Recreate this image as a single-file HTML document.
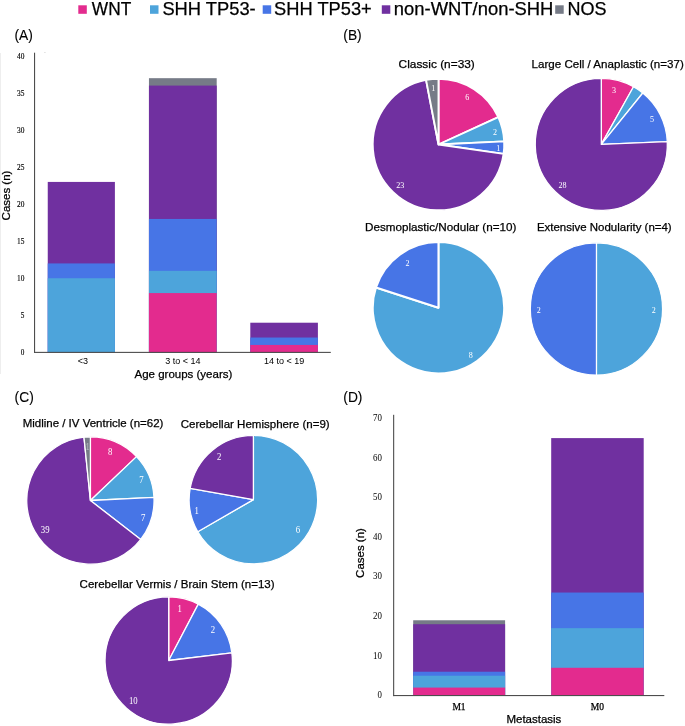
<!DOCTYPE html><html><head><meta charset="utf-8"><style>html,body{margin:0;padding:0;background:#fff}svg{display:block;will-change:transform}</style></head><body>
<svg width="685" height="726" viewBox="0 0 685 726">
<rect width="685" height="726" fill="#fff"/>
<rect x="78.3" y="5.3" width="8.5" height="8.5" fill="#E32B8E"/>
<text x="91.8" y="15.2" font-family='"Liberation Sans", sans-serif' font-size="18" text-anchor="start" fill="#000"  stroke="#000" stroke-width="0.25" textLength="39.4" lengthAdjust="spacingAndGlyphs">WNT</text>
<rect x="150" y="5.3" width="8.5" height="8.5" fill="#4DA4DB"/>
<text x="162.4" y="15.2" font-family='"Liberation Sans", sans-serif' font-size="18" text-anchor="start" fill="#000"  stroke="#000" stroke-width="0.25" textLength="93.3" lengthAdjust="spacingAndGlyphs">SHH TP53-</text>
<rect x="262.7" y="5.3" width="8.5" height="8.5" fill="#4775E6"/>
<text x="274.1" y="15.2" font-family='"Liberation Sans", sans-serif' font-size="18" text-anchor="start" fill="#000"  stroke="#000" stroke-width="0.25" textLength="97.7" lengthAdjust="spacingAndGlyphs">SHH TP53+</text>
<rect x="381.8" y="5.3" width="8.5" height="8.5" fill="#7030A0"/>
<text x="393.8" y="15.2" font-family='"Liberation Sans", sans-serif' font-size="18" text-anchor="start" fill="#000"  stroke="#000" stroke-width="0.25" textLength="159.6" lengthAdjust="spacingAndGlyphs">non-WNT/non-SHH</text>
<rect x="555.2" y="5.3" width="8.5" height="8.5" fill="#767B87"/>
<text x="567.6" y="15.2" font-family='"Liberation Sans", sans-serif' font-size="18" text-anchor="start" fill="#000"  stroke="#000" stroke-width="0.25">NOS</text>
<text x="14.5" y="40" font-family='"Liberation Sans", sans-serif' font-size="13.8" text-anchor="start" fill="#000"  stroke="#000" stroke-width="0.1">(A)</text>
<text x="343.3" y="40" font-family='"Liberation Sans", sans-serif' font-size="13.8" text-anchor="start" fill="#000"  stroke="#000" stroke-width="0.1">(B)</text>
<text x="14.6" y="401.6" font-family='"Liberation Sans", sans-serif' font-size="13.8" text-anchor="start" fill="#000"  stroke="#000" stroke-width="0.1">(C)</text>
<text x="343.3" y="401.9" font-family='"Liberation Sans", sans-serif' font-size="13.8" text-anchor="start" fill="#000"  stroke="#000" stroke-width="0.1">(D)</text>
<rect x="0" y="53" width="1" height="321" fill="#eeeeee"/><rect x="44.2" y="52.2" width="1.4" height="0.7" fill="#cfcfcf"/>
<rect x="47.75" y="181.92" width="67.15" height="170.43" fill="#7030A0"/>
<rect x="47.75" y="263.43" width="67.15" height="88.92" fill="#4775E6"/>
<rect x="47.75" y="278.25" width="67.15" height="74.10" fill="#4DA4DB"/>
<rect x="148.95" y="78.18" width="67.75" height="274.17" fill="#767B87"/>
<rect x="148.95" y="85.59" width="67.75" height="266.76" fill="#7030A0"/>
<rect x="148.95" y="218.97" width="67.75" height="133.38" fill="#4775E6"/>
<rect x="148.95" y="270.84" width="67.75" height="81.51" fill="#4DA4DB"/>
<rect x="148.95" y="293.07" width="67.75" height="59.28" fill="#E32B8E"/>
<rect x="250.3" y="322.71" width="67.60" height="29.64" fill="#7030A0"/>
<rect x="250.3" y="337.53" width="67.60" height="14.82" fill="#4775E6"/>
<rect x="250.3" y="344.94" width="67.60" height="7.41" fill="#E32B8E"/>
<rect x="34" y="52.7" width="1.1" height="300.25" fill="#4d4d4d"/>
<rect x="34" y="351.85" width="296.8" height="1.1" fill="#4d4d4d"/>
<text x="24.4" y="355.35" font-family='"Liberation Serif", serif' font-size="8.6" text-anchor="end" fill="#000" stroke="#000" stroke-width="0.15" textLength="3.6" lengthAdjust="spacingAndGlyphs">0</text>
<text x="24.4" y="318.30" font-family='"Liberation Serif", serif' font-size="8.6" text-anchor="end" fill="#000" stroke="#000" stroke-width="0.15" textLength="3.6" lengthAdjust="spacingAndGlyphs">5</text>
<text x="24.4" y="281.25" font-family='"Liberation Serif", serif' font-size="8.6" text-anchor="end" fill="#000" stroke="#000" stroke-width="0.15" textLength="7.4" lengthAdjust="spacingAndGlyphs">10</text>
<text x="24.4" y="244.20" font-family='"Liberation Serif", serif' font-size="8.6" text-anchor="end" fill="#000" stroke="#000" stroke-width="0.15" textLength="7.4" lengthAdjust="spacingAndGlyphs">15</text>
<text x="24.4" y="207.15" font-family='"Liberation Serif", serif' font-size="8.6" text-anchor="end" fill="#000" stroke="#000" stroke-width="0.15" textLength="7.4" lengthAdjust="spacingAndGlyphs">20</text>
<text x="24.4" y="170.10" font-family='"Liberation Serif", serif' font-size="8.6" text-anchor="end" fill="#000" stroke="#000" stroke-width="0.15" textLength="7.4" lengthAdjust="spacingAndGlyphs">25</text>
<text x="24.4" y="133.05" font-family='"Liberation Serif", serif' font-size="8.6" text-anchor="end" fill="#000" stroke="#000" stroke-width="0.15" textLength="7.4" lengthAdjust="spacingAndGlyphs">30</text>
<text x="24.4" y="96.00" font-family='"Liberation Serif", serif' font-size="8.6" text-anchor="end" fill="#000" stroke="#000" stroke-width="0.15" textLength="7.4" lengthAdjust="spacingAndGlyphs">35</text>
<text x="24.4" y="58.95" font-family='"Liberation Serif", serif' font-size="8.6" text-anchor="end" fill="#000" stroke="#000" stroke-width="0.15" textLength="7.4" lengthAdjust="spacingAndGlyphs">40</text>
<text x="83" y="363.6" font-family='"Liberation Sans", sans-serif' font-size="9" text-anchor="middle" fill="#000" >&lt;3</text>
<text x="182.8" y="363.6" font-family='"Liberation Sans", sans-serif' font-size="9" text-anchor="middle" fill="#000" >3 to &lt; 14</text>
<text x="284.2" y="363.6" font-family='"Liberation Sans", sans-serif' font-size="9" text-anchor="middle" fill="#000" >14 to &lt; 19</text>
<text x="183.4" y="377.8" font-family='"Liberation Sans", sans-serif' font-size="11.5" text-anchor="middle" fill="#000"  stroke="#000" stroke-width="0.25">Age groups (years)</text>
<text transform="translate(10.4 195.5) rotate(-90)" font-family='"Liberation Sans", sans-serif' font-size="11.5" text-anchor="middle" fill="#000" stroke="#000" stroke-width="0.25">Cases (n)</text>
<text x="398.6" y="68.2" font-family='"Liberation Sans", sans-serif' font-size="11.5" text-anchor="start" fill="#000"  stroke="#000" stroke-width="0.25" textLength="76.2" lengthAdjust="spacingAndGlyphs">Classic (n=33)</text>
<text x="531.6" y="68.2" font-family='"Liberation Sans", sans-serif' font-size="11.5" text-anchor="start" fill="#000"  stroke="#000" stroke-width="0.25" textLength="152.2" lengthAdjust="spacingAndGlyphs">Large Cell / Anaplastic (n=37)</text>
<text x="365" y="231.2" font-family='"Liberation Sans", sans-serif' font-size="11.5" text-anchor="start" fill="#000"  stroke="#000" stroke-width="0.25" textLength="151.4" lengthAdjust="spacingAndGlyphs">Desmoplastic/Nodular (n=10)</text>
<text x="536.9" y="231.2" font-family='"Liberation Sans", sans-serif' font-size="11.5" text-anchor="start" fill="#000"  stroke="#000" stroke-width="0.25" textLength="134.8" lengthAdjust="spacingAndGlyphs">Extensive Nodularity (n=4)</text>
<path d="M438.5 144.5 L438.50 78.75 A65.75 65.75 0 0 1 498.31 117.19 Z" fill="#E32B8E" stroke="#fff" stroke-width="1.9" stroke-linejoin="round"/>
<path d="M438.5 144.5 L498.31 117.19 A65.75 65.75 0 0 1 504.18 141.37 Z" fill="#4DA4DB" stroke="#fff" stroke-width="1.9" stroke-linejoin="round"/>
<path d="M438.5 144.5 L504.18 141.37 A65.75 65.75 0 0 1 503.58 153.86 Z" fill="#4775E6" stroke="#fff" stroke-width="1.9" stroke-linejoin="round"/>
<path d="M438.5 144.5 L503.58 153.86 A65.75 65.75 0 1 1 426.06 79.94 Z" fill="#7030A0" stroke="#fff" stroke-width="1.9" stroke-linejoin="round"/>
<path d="M438.5 144.5 L426.06 79.94 A65.75 65.75 0 0 1 438.50 78.75 Z" fill="#767B87" stroke="#fff" stroke-width="1.9" stroke-linejoin="round"/>
<text transform="translate(467.3 99.90) scale(0.88 1)" font-family='"Liberation Serif", serif' font-size="9.18" text-anchor="middle" fill="#fff">6</text>
<text transform="translate(495.1 135.10) scale(0.88 1)" font-family='"Liberation Serif", serif' font-size="9.18" text-anchor="middle" fill="#fff">2</text>
<text transform="translate(498.2 151.00) scale(0.88 1)" font-family='"Liberation Serif", serif' font-size="9.18" text-anchor="middle" fill="#fff">1</text>
<text transform="translate(400.3 188.20) scale(0.88 1)" font-family='"Liberation Serif", serif' font-size="9.18" text-anchor="middle" fill="#fff">23</text>
<text transform="translate(433.3 91.00) scale(0.88 1)" font-family='"Liberation Serif", serif' font-size="9.18" text-anchor="middle" fill="#fff">1</text>
<path d="M601.3 144.4 L601.30 78.35 A66.05000000000001 66.05000000000001 0 0 1 633.51 86.74 Z" fill="#E32B8E" stroke="#fff" stroke-width="1.3" stroke-linejoin="round"/>
<path d="M601.3 144.4 L633.51 86.74 A66.05000000000001 66.05000000000001 0 0 1 642.79 93.01 Z" fill="#4DA4DB" stroke="#fff" stroke-width="1.3" stroke-linejoin="round"/>
<path d="M601.3 144.4 L642.79 93.01 A66.05000000000001 66.05000000000001 0 0 1 667.29 141.60 Z" fill="#4775E6" stroke="#fff" stroke-width="1.3" stroke-linejoin="round"/>
<path d="M601.3 144.4 L667.29 141.60 A66.05000000000001 66.05000000000001 0 1 1 601.30 78.35 Z" fill="#7030A0" stroke="#fff" stroke-width="1.3" stroke-linejoin="round"/>
<text transform="translate(613.9 92.80) scale(0.88 1)" font-family='"Liberation Serif", serif' font-size="9.18" text-anchor="middle" fill="#fff">3</text>
<text transform="translate(652 122.20) scale(0.88 1)" font-family='"Liberation Serif", serif' font-size="9.18" text-anchor="middle" fill="#fff">5</text>
<text transform="translate(562.6 187.50) scale(0.88 1)" font-family='"Liberation Serif", serif' font-size="9.18" text-anchor="middle" fill="#fff">28</text>
<path d="M438.45 307.8 L438.45 242.10 A65.7 65.7 0 1 1 375.97 287.50 Z" fill="#4DA4DB" stroke="#fff" stroke-width="2.0" stroke-linejoin="round"/>
<path d="M438.45 307.8 L375.97 287.50 A65.7 65.7 0 0 1 438.45 242.10 Z" fill="#4775E6" stroke="#fff" stroke-width="2.0" stroke-linejoin="round"/>
<text transform="translate(407.5 265.60) scale(0.88 1)" font-family='"Liberation Serif", serif' font-size="9.18" text-anchor="middle" fill="#fff">2</text>
<text transform="translate(470.8 357.90) scale(0.88 1)" font-family='"Liberation Serif", serif' font-size="9.18" text-anchor="middle" fill="#fff">8</text>
<path d="M596.45 308.9 L596.45 242.77 A66.125 66.125 0 0 1 596.45 375.02 Z" fill="#4DA4DB" stroke="#fff" stroke-width="1.25" stroke-linejoin="round"/>
<path d="M596.45 308.9 L596.45 375.02 A66.125 66.125 0 0 1 596.45 242.77 Z" fill="#4775E6" stroke="#fff" stroke-width="1.25" stroke-linejoin="round"/>
<text transform="translate(538.8 313.10) scale(0.88 1)" font-family='"Liberation Serif", serif' font-size="9.18" text-anchor="middle" fill="#fff">2</text>
<text transform="translate(653.7 313.10) scale(0.88 1)" font-family='"Liberation Serif", serif' font-size="9.18" text-anchor="middle" fill="#fff">2</text>
<text x="22.7" y="427.2" font-family='"Liberation Sans", sans-serif' font-size="11.5" text-anchor="start" fill="#000"  stroke="#000" stroke-width="0.25" textLength="140.7" lengthAdjust="spacingAndGlyphs">Midline / IV Ventricle (n=62)</text>
<text x="180.7" y="427.7" font-family='"Liberation Sans", sans-serif' font-size="11.5" text-anchor="start" fill="#000"  stroke="#000" stroke-width="0.25" textLength="149" lengthAdjust="spacingAndGlyphs">Cerebellar Hemisphere (n=9)</text>
<text x="79.6" y="587.7" font-family='"Liberation Sans", sans-serif' font-size="11.5" text-anchor="start" fill="#000"  stroke="#000" stroke-width="0.25" textLength="195" lengthAdjust="spacingAndGlyphs">Cerebellar Vermis / Brain Stem (n=13)</text>
<path d="M90.4 500.5 L90.40 436.85 A63.65 63.65 0 0 1 136.53 456.65 Z" fill="#E32B8E" stroke="#fff" stroke-width="1.3" stroke-linejoin="round"/>
<path d="M90.4 500.5 L136.53 456.65 A63.65 63.65 0 0 1 153.97 497.28 Z" fill="#4DA4DB" stroke="#fff" stroke-width="1.3" stroke-linejoin="round"/>
<path d="M90.4 500.5 L153.97 497.28 A63.65 63.65 0 0 1 140.73 539.46 Z" fill="#4775E6" stroke="#fff" stroke-width="1.3" stroke-linejoin="round"/>
<path d="M90.4 500.5 L140.73 539.46 A63.65 63.65 0 1 1 83.96 437.18 Z" fill="#7030A0" stroke="#fff" stroke-width="1.3" stroke-linejoin="round"/>
<path d="M90.4 500.5 L83.96 437.18 A63.65 63.65 0 0 1 90.40 436.85 Z" fill="#767B87" stroke="#fff" stroke-width="1.3" stroke-linejoin="round"/>
<text transform="translate(110.2 454.66) scale(0.88 1)" font-family='"Liberation Serif", serif' font-size="9.94" text-anchor="middle" fill="#fff">8</text>
<text transform="translate(141.5 483.16) scale(0.88 1)" font-family='"Liberation Serif", serif' font-size="9.94" text-anchor="middle" fill="#fff">7</text>
<text transform="translate(143.3 521.36) scale(0.88 1)" font-family='"Liberation Serif", serif' font-size="9.94" text-anchor="middle" fill="#fff">7</text>
<text transform="translate(45.2 532.56) scale(0.88 1)" font-family='"Liberation Serif", serif' font-size="9.94" text-anchor="middle" fill="#fff">39</text>
<text transform="translate(87.7 450.26) scale(0.88 1)" font-family='"Liberation Serif", serif' font-size="9.94" text-anchor="middle" fill="#b9bcc6">1</text>
<path d="M253.4 499.6 L253.40 435.35 A64.25 64.25 0 1 1 197.76 531.73 Z" fill="#4DA4DB" stroke="#fff" stroke-width="1.3" stroke-linejoin="round"/>
<path d="M253.4 499.6 L197.76 531.73 A64.25 64.25 0 0 1 190.13 488.44 Z" fill="#4775E6" stroke="#fff" stroke-width="1.3" stroke-linejoin="round"/>
<path d="M253.4 499.6 L190.13 488.44 A64.25 64.25 0 0 1 253.40 435.35 Z" fill="#7030A0" stroke="#fff" stroke-width="1.3" stroke-linejoin="round"/>
<text transform="translate(219.2 460.46) scale(0.88 1)" font-family='"Liberation Serif", serif' font-size="9.94" text-anchor="middle" fill="#fff">2</text>
<text transform="translate(196.8 513.76) scale(0.88 1)" font-family='"Liberation Serif", serif' font-size="9.94" text-anchor="middle" fill="#fff">1</text>
<text transform="translate(297.9 533.06) scale(0.88 1)" font-family='"Liberation Serif", serif' font-size="9.94" text-anchor="middle" fill="#fff">6</text>
<path d="M168.7 660.5 L168.70 596.85 A63.65 63.65 0 0 1 198.28 604.14 Z" fill="#E32B8E" stroke="#fff" stroke-width="1.3" stroke-linejoin="round"/>
<path d="M168.7 660.5 L198.28 604.14 A63.65 63.65 0 0 1 231.89 652.83 Z" fill="#4775E6" stroke="#fff" stroke-width="1.3" stroke-linejoin="round"/>
<path d="M168.7 660.5 L231.89 652.83 A63.65 63.65 0 1 1 168.70 596.85 Z" fill="#7030A0" stroke="#fff" stroke-width="1.3" stroke-linejoin="round"/>
<text transform="translate(179.8 611.86) scale(0.88 1)" font-family='"Liberation Serif", serif' font-size="9.94" text-anchor="middle" fill="#fff">1</text>
<text transform="translate(212.9 632.76) scale(0.88 1)" font-family='"Liberation Serif", serif' font-size="9.94" text-anchor="middle" fill="#fff">2</text>
<text transform="translate(133.3 704.36) scale(0.88 1)" font-family='"Liberation Serif", serif' font-size="9.94" text-anchor="middle" fill="#fff">10</text>
<rect x="413.2" y="620.26" width="91.90" height="75.24" fill="#767B87"/>
<rect x="413.2" y="624.22" width="91.90" height="71.28" fill="#7030A0"/>
<rect x="413.2" y="671.74" width="91.90" height="23.76" fill="#4775E6"/>
<rect x="413.2" y="675.70" width="91.90" height="19.80" fill="#4DA4DB"/>
<rect x="413.2" y="687.58" width="91.90" height="7.92" fill="#E32B8E"/>
<rect x="551.2" y="438.10" width="92.50" height="257.40" fill="#7030A0"/>
<rect x="551.2" y="592.54" width="92.50" height="102.96" fill="#4775E6"/>
<rect x="551.2" y="628.18" width="92.50" height="67.32" fill="#4DA4DB"/>
<rect x="551.2" y="667.78" width="92.50" height="27.72" fill="#E32B8E"/>
<rect x="393.1" y="414.8" width="1.1" height="281.30" fill="#4d4d4d"/>
<rect x="393.1" y="695.0" width="271.19999999999993" height="1.1" fill="#4d4d4d"/>
<text x="381.9" y="698.20" font-family='"Liberation Serif", serif' font-size="10" text-anchor="end" fill="#000" textLength="4.4" lengthAdjust="spacingAndGlyphs">0</text>
<text x="381.9" y="658.60" font-family='"Liberation Serif", serif' font-size="10" text-anchor="end" fill="#000" textLength="8.9" lengthAdjust="spacingAndGlyphs">10</text>
<text x="381.9" y="619.00" font-family='"Liberation Serif", serif' font-size="10" text-anchor="end" fill="#000" textLength="8.9" lengthAdjust="spacingAndGlyphs">20</text>
<text x="381.9" y="579.40" font-family='"Liberation Serif", serif' font-size="10" text-anchor="end" fill="#000" textLength="8.9" lengthAdjust="spacingAndGlyphs">30</text>
<text x="381.9" y="539.80" font-family='"Liberation Serif", serif' font-size="10" text-anchor="end" fill="#000" textLength="8.9" lengthAdjust="spacingAndGlyphs">40</text>
<text x="381.9" y="500.20" font-family='"Liberation Serif", serif' font-size="10" text-anchor="end" fill="#000" textLength="8.9" lengthAdjust="spacingAndGlyphs">50</text>
<text x="381.9" y="460.60" font-family='"Liberation Serif", serif' font-size="10" text-anchor="end" fill="#000" textLength="8.9" lengthAdjust="spacingAndGlyphs">60</text>
<text x="381.9" y="421.00" font-family='"Liberation Serif", serif' font-size="10" text-anchor="end" fill="#000" textLength="8.9" lengthAdjust="spacingAndGlyphs">70</text>
<text x="459" y="709.7" font-family='"Liberation Serif", serif' font-size="9.5" text-anchor="middle" fill="#000" stroke="#000" stroke-width="0.25">M1</text>
<text x="597.4" y="709.7" font-family='"Liberation Serif", serif' font-size="9.5" text-anchor="middle" fill="#000" stroke="#000" stroke-width="0.25">M0</text>
<text x="533.9" y="722.6" font-family='"Liberation Sans", sans-serif' font-size="11.5" text-anchor="middle" fill="#000"  stroke="#000" stroke-width="0.25">Metastasis</text>
<text transform="translate(364.0 553.0) rotate(-90)" font-family='"Liberation Sans", sans-serif' font-size="11.5" text-anchor="middle" fill="#000" stroke="#000" stroke-width="0.25">Cases (n)</text>
</svg></body></html>
